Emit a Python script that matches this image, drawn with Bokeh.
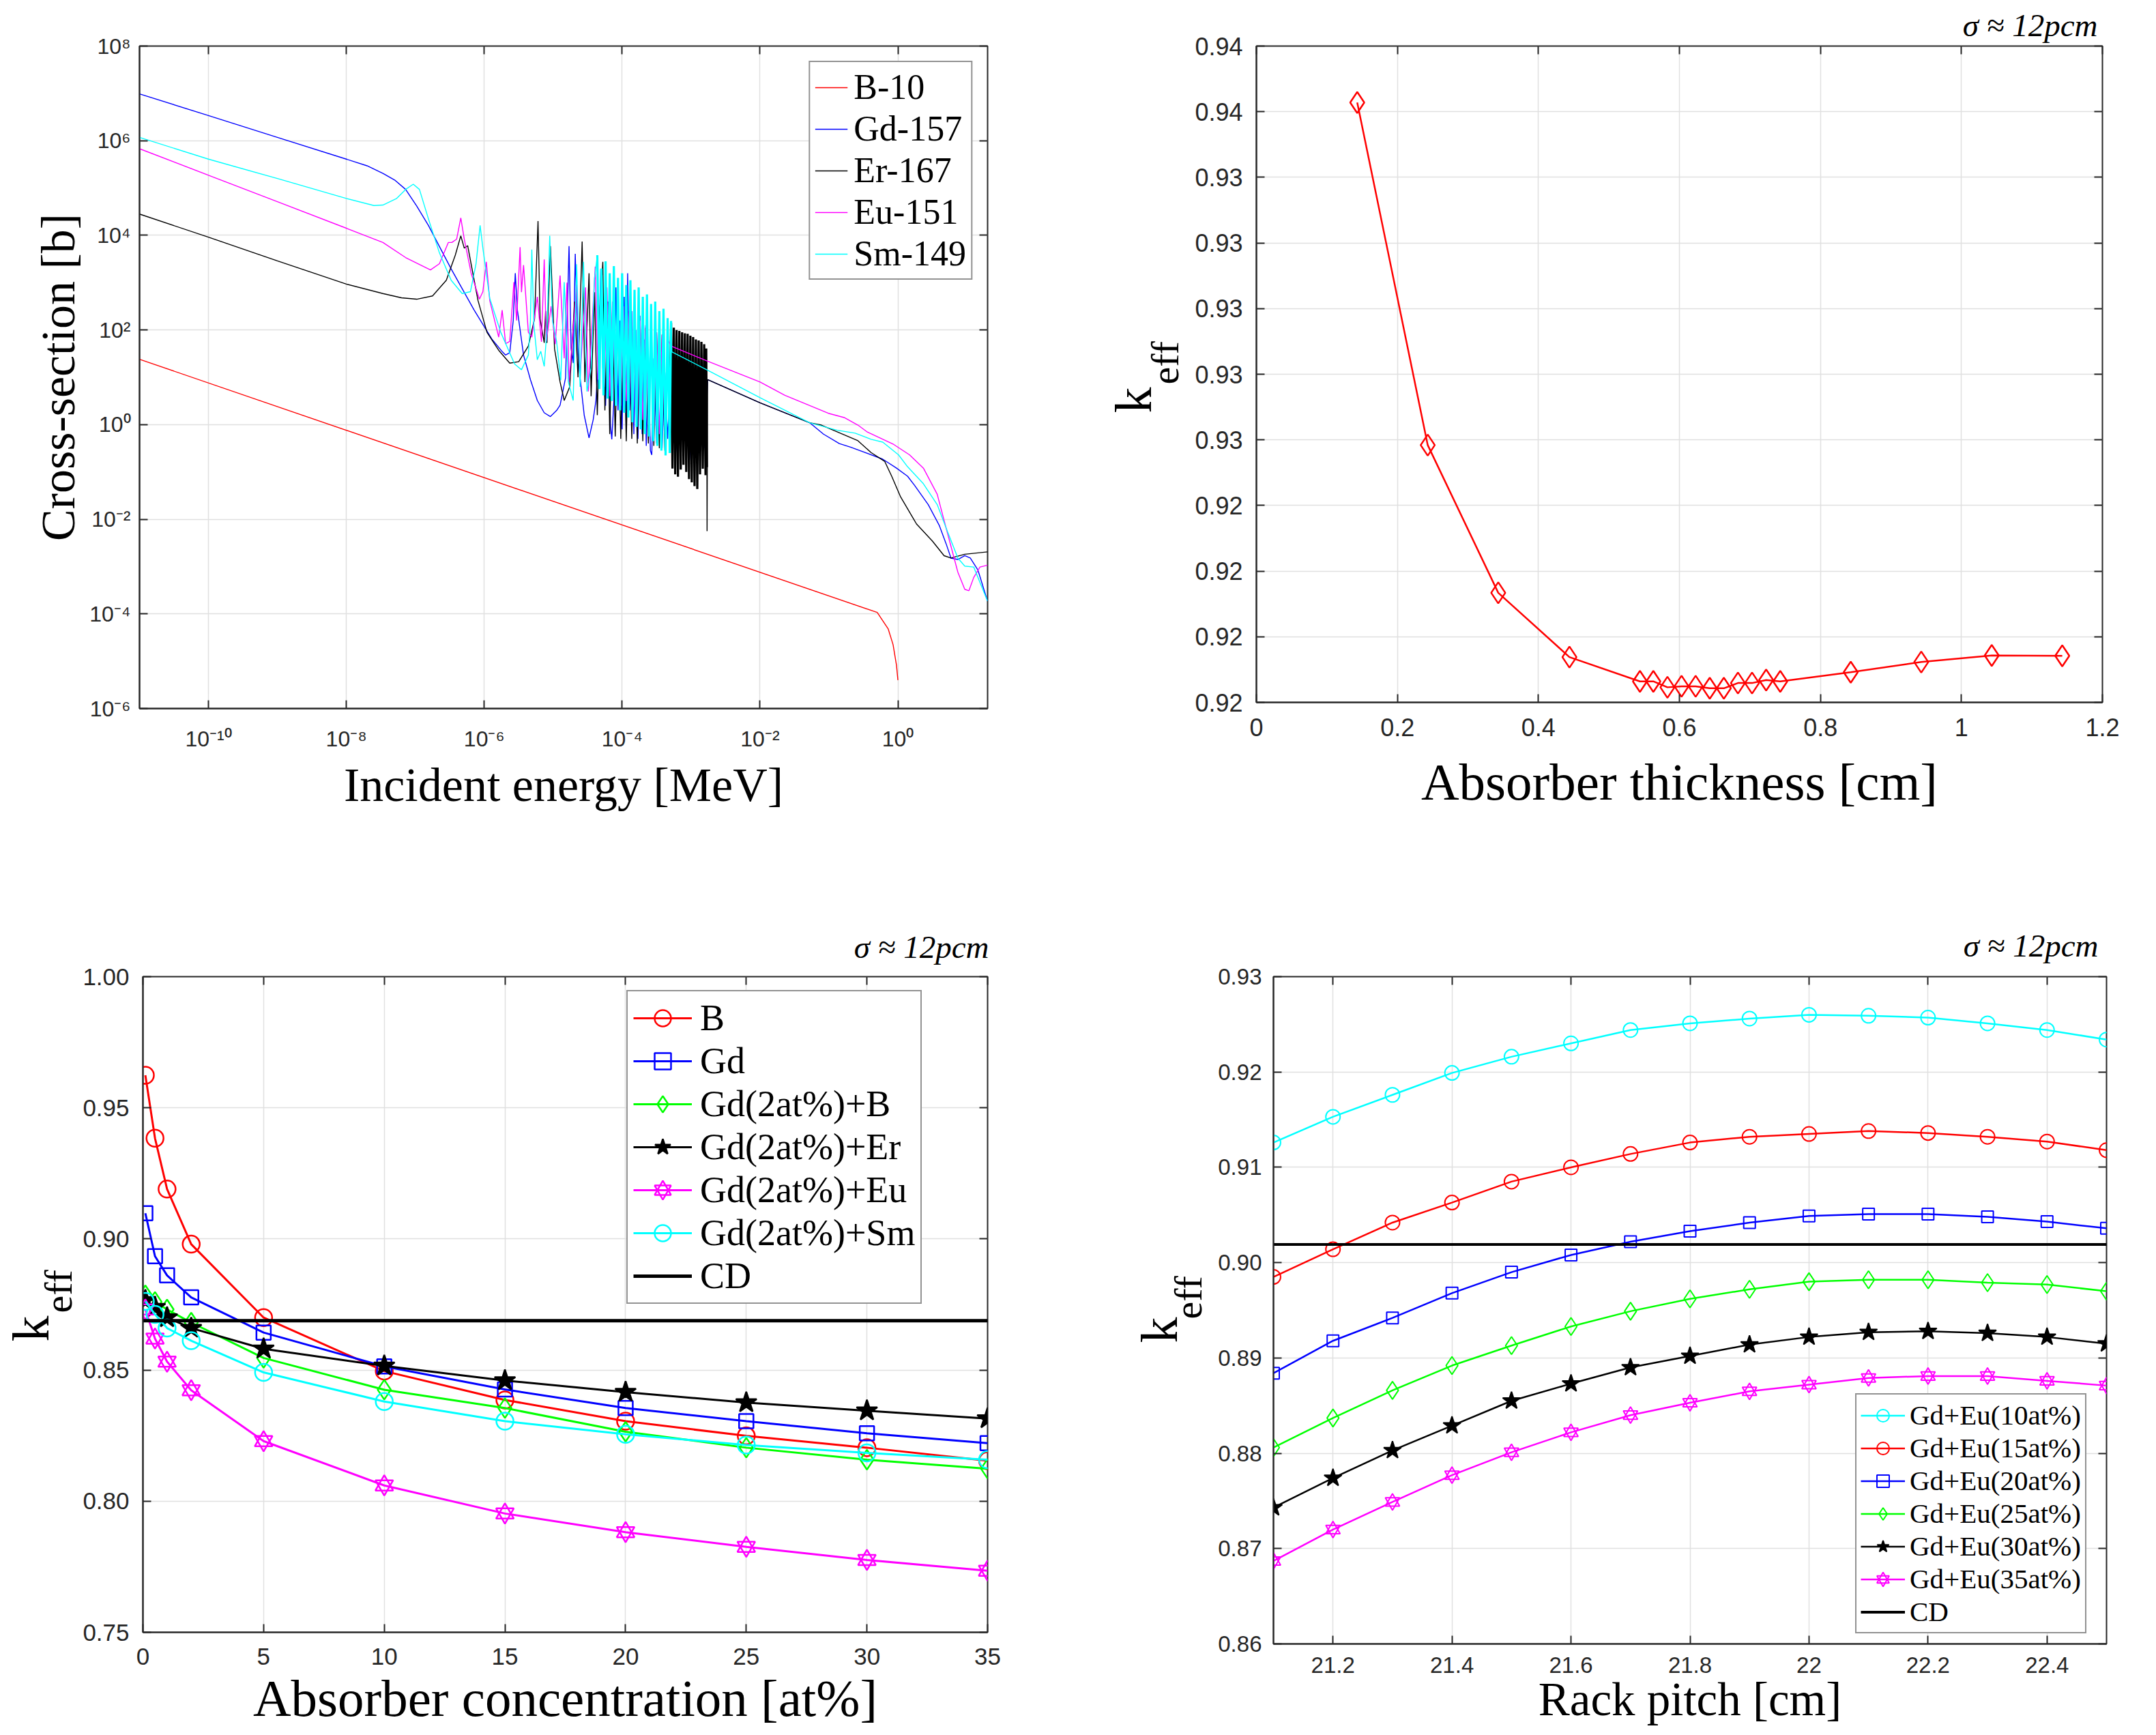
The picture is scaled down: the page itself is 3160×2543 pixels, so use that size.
import math
from bokeh.plotting import figure
from bokeh.layouts import column, row
from bokeh.models import (FixedTicker, PrintfTickFormatter, CustomJSTickFormatter,
                          Legend, LegendItem, Title, LinearAxis, LogAxis, Range1d)
from bokeh.embed import file_html
from bokeh.resources import INLINE

# ---------------- Panel (a): capture cross sections, (log10 E [MeV], log10 sigma [b]) ----------------
B10 = [(-11.0, 1.38), (-0.30, -3.97), (-0.14, -4.32), (-0.07, -4.65), (-0.02, -5.09), (0.0, -5.40)]

GD157 = [(-11.0, 6.99), (-10.0, 6.53), (-9.0, 6.07), (-8.0, 5.61), (-7.7, 5.47), (-7.47, 5.31), (-7.3, 5.17),
         (-7.14, 4.97), (-6.98, 4.62), (-6.81, 4.21), (-6.48, 3.29), (-6.15, 2.43), (-5.89, 1.81), (-5.75, 1.56),
         (-5.69, 1.47), (-5.63, 1.52), (-5.58, 2.19), (-5.55, 3.20), (-5.52, 2.43), (-5.43, 1.47), (-5.33, 0.95),
         (-5.23, 0.51), (-5.13, 0.25), (-5.04, 0.17), (-4.95, 0.30), (-4.90, 0.41), (-4.82, 0.99), (-4.77, 3.77),
         (-4.74, 1.60), (-4.71, 1.30), (-4.68, 3.61), (-4.64, 1.50), (-4.61, 0.99), (-4.55, 0.20), (-4.48, -0.28),
         (-4.42, 0.10), (-4.38, 0.51), (-4.34, 1.50), (-4.31, 3.29), (-4.28, 1.20), (-4.24, 0.40), (-4.20, 2.60),
         (-4.17, 0.00), (-4.15, -0.31), (-4.12, 0.50), (-4.09, 2.90), (-4.06, 0.30), (-4.03, 2.20), (-4.00, -0.10),
         (-3.97, 2.70), (-3.94, 0.10), (-3.92, 3.20), (-3.89, 0.30), (-3.86, 2.40), (-3.83, -0.20), (-3.80, 2.00),
         (-3.77, -0.30), (-3.74, 2.30), (-3.71, -0.20), (-3.68, 1.80), (-3.65, -0.45), (-3.62, 1.50), (-3.59, -0.55),
         (-3.57, -0.64), (-3.54, 1.40), (-3.50, -0.40), (-3.46, 1.30), (-3.42, -0.50), (-3.38, 1.10), (-3.34, -0.30),
         (-3.30, 1.00), (-3.20, -0.60), (-3.10, 1.20), (-3.00, -0.80), (-2.90, 1.00), (-2.80, -0.50), (-2.76, 0.95),
         (-2.00, 0.46), (-1.28, 0.04), (-1.08, -0.20), (-0.85, -0.40), (-0.68, -0.48), (-0.22, -0.73), (-0.02, -0.92),
         (0.14, -1.09), (0.24, -1.28), (0.44, -1.69), (0.60, -2.13), (0.70, -2.52), (0.77, -2.82), (0.87, -2.85),
         (0.97, -2.77), (1.05, -2.82), (1.16, -3.07), (1.30, -3.73)]

ER167 = [(-11.0, 4.45), (-10.0, 3.96), (-9.0, 3.46), (-8.0, 2.97), (-7.47, 2.77), (-7.2, 2.68), (-6.98, 2.65),
         (-6.75, 2.72), (-6.55, 3.05), (-6.42, 3.58), (-6.34, 3.99), (-6.29, 3.73), (-6.24, 3.78), (-6.19, 3.39),
         (-6.09, 2.62), (-5.96, 1.95), (-5.79, 1.57), (-5.63, 1.30), (-5.50, 1.33), (-5.36, 1.66), (-5.27, 2.24),
         (-5.22, 4.30), (-5.19, 2.24), (-5.13, 1.73), (-5.11, 2.40), (-5.09, 1.73), (-5.04, 3.77), (-4.98, 1.60),
         (-4.90, 0.90), (-4.84, 0.51), (-4.76, 0.80), (-4.69, 2.60), (-4.64, 1.00), (-4.58, 3.87), (-4.54, 0.90),
         (-4.48, 3.20), (-4.45, 0.60), (-4.40, 2.80), (-4.36, 0.20), (-4.32, 2.50), (-4.28, 3.44), (-4.25, 0.30),
         (-4.21, 2.60), (-4.18, -0.20), (-4.14, 2.40), (-4.10, -0.25), (-4.06, 2.30), (-4.02, -0.30), (-3.98, 2.20),
         (-3.94, -0.35), (-3.90, 2.30), (-3.86, -0.30), (-3.82, 2.10), (-3.78, -0.40), (-3.74, 2.15), (-3.70, -0.35),
         (-3.66, 2.05), (-3.62, -0.40), (-3.58, 2.00), (-3.54, -0.45), (-3.50, 1.95), (-3.46, -0.50), (-3.42, 1.90),
         (-3.38, -0.55), (-3.34, 1.85), (-3.31, -0.60)]
ER167_BAND = [(-3.31, -0.60), (-3.29, 2.15), (-3.27, -0.93), (-3.25, 2.05), (-3.23, -1.05),
              (-3.21, 2.00), (-3.19, -1.10), (-3.17, 1.98), (-3.15, -0.95), (-3.13, 1.95), (-3.11, -0.85), (-3.09, 1.93),
              (-3.07, -1.00), (-3.05, 1.92), (-3.03, -1.15), (-3.01, 1.88), (-2.99, -1.22), (-2.97, 1.85), (-2.95, -1.30),
              (-2.93, 1.80), (-2.91, -1.36), (-2.89, 1.78), (-2.87, -1.05), (-2.85, 1.75), (-2.83, -0.93), (-2.81, 1.70),
              (-2.79, -1.07), (-2.78, 1.61), (-2.77, -0.90)]
ER167_HIGH = [(-2.77, -0.90), (-2.768, -2.25), (-2.76, 0.95), (-2.00, 0.46), (-1.28, 0.04), (-1.11, -0.01),
              (-0.58, -0.34), (-0.39, -0.59), (-0.19, -0.78), (-0.09, -1.09), (0.04, -1.53), (0.27, -2.10), (0.50, -2.46),
              (0.67, -2.77), (0.77, -2.82), (0.97, -2.74), (1.30, -2.69)]

EU151 = [(-11.0, 5.83), (-10.0, 5.27), (-9.0, 4.71), (-8.0, 4.15), (-7.47, 3.85), (-7.14, 3.53), (-6.78, 3.27),
         (-6.65, 3.40), (-6.52, 3.85), (-6.47, 3.85), (-6.40, 3.92), (-6.34, 4.37), (-6.29, 3.92), (-6.19, 3.20),
         (-6.07, 2.65), (-6.02, 2.81), (-5.97, 3.44), (-5.92, 2.62), (-5.79, 1.85), (-5.74, 2.42), (-5.69, 1.71),
         (-5.63, 1.76), (-5.57, 3.01), (-5.53, 2.20), (-5.48, 3.75), (-5.46, 2.80), (-5.43, 3.37), (-5.36, 1.95),
         (-5.31, 1.85), (-5.23, 2.70), (-5.17, 1.75), (-5.13, 3.49), (-5.10, 1.75), (-5.03, 2.50), (-4.97, 1.70),
         (-4.90, 3.15), (-4.84, 1.40), (-4.80, 3.00), (-4.77, 0.90), (-4.66, 2.96), (-4.61, 1.00), (-4.53, 2.90),
         (-4.49, 0.70), (-4.39, 3.34), (-4.35, 0.95), (-4.30, 2.80), (-4.26, 0.80), (-4.22, 2.90), (-4.18, 0.60),
         (-4.14, 2.60), (-4.10, 0.70), (-4.06, 2.75), (-4.02, 0.40), (-3.98, 2.50), (-3.94, 0.50), (-3.90, 2.40),
         (-3.86, 0.30), (-3.82, 2.30), (-3.78, 0.20), (-3.74, 2.20), (-3.70, 0.10), (-3.66, 2.10), (-3.62, 0.00),
         (-3.58, 2.00), (-3.54, -0.10), (-3.50, 1.95), (-3.46, -0.20), (-3.42, 1.90), (-3.38, -0.20), (-3.34, 1.80),
         (-3.29, 1.66), (-2.76, 1.34), (-2.00, 0.90), (-1.64, 0.62), (-1.01, 0.24), (-0.78, 0.15), (-0.58, -0.01),
         (-0.45, -0.15), (-0.06, -0.42), (0.17, -0.64), (0.37, -0.92), (0.57, -1.47), (0.70, -2.19), (0.87, -3.12),
         (0.97, -3.48), (1.03, -3.51), (1.10, -3.23), (1.19, -3.01), (1.30, -2.97)]

SM149 = [(-11.0, 6.07), (-10.0, 5.61), (-9.0, 5.20), (-8.0, 4.78), (-7.6, 4.63), (-7.47, 4.64), (-7.27, 4.78),
         (-7.14, 4.97), (-7.03, 5.08), (-6.94, 4.97), (-6.81, 4.35), (-6.65, 3.63), (-6.48, 3.05), (-6.32, 2.77),
         (-6.20, 2.81), (-6.12, 3.39), (-6.06, 4.21), (-6.02, 3.73), (-5.92, 2.67), (-5.76, 1.95), (-5.56, 1.28),
         (-5.46, 1.16), (-5.36, 1.47), (-5.33, 2.20), (-5.31, 3.70), (-5.28, 2.10), (-5.23, 1.37), (-5.18, 1.55),
         (-5.13, 1.23), (-5.09, 2.00), (-5.05, 3.99), (-5.01, 2.20), (-4.95, 1.75), (-4.89, 0.94), (-4.84, 3.01),
         (-4.78, 0.90), (-4.71, 0.51), (-4.66, 3.39), (-4.61, 0.80), (-4.56, 3.44), (-4.51, 0.70), (-4.45, 1.20),
         (-4.40, 3.10), (-4.36, 3.58)]
SM149_BAND = [(-4.36, 3.58), (-4.33, 0.75), (-4.30, 3.30), (-4.27, 0.62), (-4.24, 3.45), (-4.21, 0.55),
              (-4.18, 3.20), (-4.15, 0.50), (-4.12, 3.35), (-4.09, 0.40), (-4.06, 3.10), (-4.03, 0.30), (-4.00, 3.20),
              (-3.97, 0.25), (-3.94, 2.95), (-3.91, 0.15), (-3.88, 3.05), (-3.85, 0.05), (-3.82, 2.85), (-3.79, -0.05),
              (-3.76, 2.90), (-3.73, -0.10), (-3.70, 2.70), (-3.67, -0.20), (-3.64, 2.75), (-3.61, -0.25), (-3.58, 2.55),
              (-3.55, -0.35), (-3.52, 2.60), (-3.49, -0.45), (-3.46, 2.40), (-3.43, -0.55), (-3.40, 2.45), (-3.37, -0.65),
              (-3.34, 2.25), (-3.31, -0.60), (-3.29, 2.19)]
SM149_HIGH = [(-3.29, 2.19), (-3.28, 1.54), (-2.76, 1.15), (-2.00, 0.57), (-1.28, 0.04),
              (-0.88, -0.12), (-0.62, -0.18), (-0.39, -0.31), (-0.22, -0.37), (0.01, -0.64), (0.14, -0.89), (0.37, -1.25),
              (0.57, -1.69), (0.73, -2.30), (0.87, -2.82), (0.97, -2.99), (1.10, -3.01), (1.30, -3.73)]

# ---------------- Panel (b): keff vs absorber thickness ----------------
THICK = [0.143, 0.243, 0.343, 0.444, 0.544, 0.563, 0.583, 0.603, 0.623, 0.643, 0.663, 0.683, 0.703,
         0.723, 0.743, 0.843, 0.943, 1.043, 1.143]
KEFF_THICK = [0.93628, 0.92584, 0.92134, 0.91938, 0.91864, 0.91864, 0.91846, 0.91849, 0.91849, 0.91843,
              0.91843, 0.91859, 0.91859, 0.91868, 0.91864, 0.91892, 0.91923, 0.91943, 0.91942]

# ---------------- Panel (c): keff vs absorber concentration ----------------
CONC = [0.1, 0.5, 1, 2, 5, 10, 15, 20, 25, 30, 35]
K_B = [0.9624, 0.9384, 0.9190, 0.8980, 0.8700, 0.8496, 0.8386, 0.8305, 0.8249, 0.8204, 0.8154]
K_GD = [0.9098, 0.8934, 0.8861, 0.8777, 0.8643, 0.8514, 0.8426, 0.8355, 0.8305, 0.8259, 0.8221]
K_GDB = [0.8785, 0.8760, 0.8731, 0.8681, 0.8546, 0.8425, 0.8355, 0.8265, 0.8204, 0.8158, 0.8124]
K_GDER = [0.8766, 0.8740, 0.8700, 0.8660, 0.8581, 0.8516, 0.8460, 0.8416, 0.8376, 0.8345, 0.8315]
K_GDEU = [0.8731, 0.8620, 0.8532, 0.8423, 0.8229, 0.8060, 0.7953, 0.7882, 0.7826, 0.7776, 0.7735]
K_GDSM = [0.8762, 0.8712, 0.8660, 0.8612, 0.8491, 0.8380, 0.8305, 0.8255, 0.8214, 0.8184, 0.8158]
K_CD_C = 0.8688

# ---------------- Panel (d): keff vs rack pitch ----------------
PITCH = [21.1, 21.2, 21.3, 21.4, 21.5, 21.6, 21.7, 21.8, 21.9, 22.0, 22.1, 22.2, 22.3, 22.4, 22.5]
EU10 = [0.9126, 0.9153, 0.9176, 0.9199, 0.9216, 0.9230, 0.9244, 0.9251, 0.9256, 0.9260, 0.9259, 0.9257, 0.9251, 0.9244, 0.9234]
EU15 = [0.8985, 0.9014, 0.9042, 0.9063, 0.9085, 0.9100, 0.9114, 0.9126, 0.9132, 0.9135, 0.9138, 0.9136, 0.9132, 0.9127, 0.9118]
EU20 = [0.8884, 0.8918, 0.8942, 0.8968, 0.8990, 0.9008, 0.9022, 0.9033, 0.9042, 0.9049, 0.9051, 0.9051, 0.9048, 0.9043, 0.9036]
EU25 = [0.8806, 0.8837, 0.8866, 0.8892, 0.8913, 0.8933, 0.8949, 0.8962, 0.8972, 0.8980, 0.8982, 0.8982, 0.8979, 0.8977, 0.8970]
EU30 = [0.8743, 0.8774, 0.8803, 0.8829, 0.8855, 0.8873, 0.8890, 0.8902, 0.8914, 0.8922, 0.8927, 0.8928, 0.8926, 0.8922, 0.8915]
EU35 = [0.8687, 0.8720, 0.8749, 0.8777, 0.8801, 0.8822, 0.8840, 0.8853, 0.8865, 0.8872, 0.8879, 0.8881, 0.8881, 0.8876, 0.8871]
K_CD_D = 0.9019

# ---------------- ticks ----------------
A_XT = [1e-10, 1e-8, 1e-6, 1e-4, 1e-2, 1.0]
A_YT = [1e-6, 1e-4, 1e-2, 1.0, 1e2, 1e4, 1e6, 1e8]
B_XT = [0, 0.2, 0.4, 0.6, 0.8, 1.0, 1.2]
B_YT = [0.918, 0.920, 0.922, 0.924, 0.926, 0.928, 0.930, 0.932, 0.934, 0.936, 0.938]
C_XT = [0, 5, 10, 15, 20, 25, 30, 35]
C_YT = [0.75, 0.80, 0.85, 0.90, 0.95, 1.00]
D_XT = [21.2, 21.4, 21.6, 21.8, 22.0, 22.2, 22.4]
D_YT = [0.86, 0.87, 0.88, 0.89, 0.90, 0.91, 0.92, 0.93]

SERIF = "Liberation Serif"
SANS = "Liberation Sans"
AX = "#262626"
GRID = "#e0e0e0"

SUP_FMT = """
const sup = {'-':'\u207b','0':'\u2070','1':'\u00b9','2':'\u00b2','3':'\u00b3','4':'\u2074',
             '5':'\u2075','6':'\u2076','7':'\u2077','8':'\u2078','9':'\u2079'};
const e = Math.round(Math.log10(tick));
return '10' + String(e).split('').map(c => sup[c]).join('');
"""


def unlog(pairs):
    return [10 ** a for a, b in pairs], [10 ** b for a, b in pairs]


def make_fig(fw, fh, l, r, t, b, **kw):
    p = figure(frame_width=fw, frame_height=fh, min_border_left=l, min_border_right=r,
               min_border_top=t, min_border_bottom=b, output_backend="svg",
               toolbar_location=None, **kw)
    p.outline_line_color = AX
    p.outline_line_width = 2
    p.background_fill_color = "white"
    p.border_fill_color = "white"
    p.grid.grid_line_color = GRID
    p.grid.grid_line_width = 1.5
    return p


def style_axes(p, xt, yt, xf, yf, fs, xstand, ystand, log=False):
    xa = p.below[0]
    ya = p.left[0]
    xa.ticker = FixedTicker(ticks=xt)
    ya.ticker = FixedTicker(ticks=yt)
    xa.formatter = xf
    ya.formatter = yf
    for ax in (xa, ya):
        ax.major_tick_in = 12
        ax.major_tick_out = 0
        ax.minor_tick_line_color = None
        ax.major_tick_line_color = AX
        ax.major_tick_line_width = 2
        ax.axis_line_color = AX
        ax.axis_line_width = 2
        ax.major_label_text_font = SANS
        ax.major_label_text_font_size = fs
        ax.major_label_text_color = AX
        ax.axis_label_text_font = SERIF
        ax.axis_label_text_font_style = "normal"
        ax.axis_label_text_color = "black"
    xa.major_label_standoff = xstand
    ya.major_label_standoff = ystand
    Ax = LogAxis if log else LinearAxis
    for side, ticks in (("above", xt), ("right", yt)):
        a = Ax(ticker=FixedTicker(ticks=ticks), formatter=CustomJSTickFormatter(code="return '';"),
               major_tick_in=12, major_tick_out=0, minor_tick_line_color=None,
               major_tick_line_color=AX, major_tick_line_width=2, axis_line_color=None,
               major_label_standoff=0, major_label_text_font_size="1px")
        p.add_layout(a, side)


def sigma_title(p, offset, standoff):
    p.add_layout(Title(text="\u03c3 \u2248 12pcm", align="right", vertical_align="bottom",
                       offset=offset, standoff=standoff, text_font=SERIF, text_font_style="italic",
                       text_font_size="47px", text_color="black"), "above")


def keff_titles(p, off_k, off_e, s_k, s_e):
    p.add_layout(Title(text="eff", align="left", vertical_align="bottom", offset=off_e, standoff=s_e,
                       text_font=SERIF, text_font_style="normal", text_font_size="58px",
                       text_color="black"), "left")
    p.add_layout(Title(text="k", align="left", vertical_align="bottom", offset=off_k, standoff=s_k,
                       text_font=SERIF, text_font_style="normal", text_font_size="76px",
                       text_color="black"), "left")


def legend_style(lg, fs, gw, gh, standoff, spacing, padding):
    lg.label_text_font = SERIF
    lg.label_text_font_size = fs
    lg.label_text_color = "black"
    lg.glyph_width = gw
    lg.glyph_height = gh
    lg.label_height = gh
    lg.label_standoff = standoff
    lg.spacing = spacing
    lg.padding = padding
    lg.border_line_color = AX
    lg.border_line_width = 2
    lg.background_fill_color = "white"
    lg.background_fill_alpha = 1.0


# ======================= Panel (a) =======================
p1 = make_fig(1243, 971, 204, 40, 64, 190, x_axis_type="log", y_axis_type="log",
              x_range=Range1d(1e-11, 20), y_range=Range1d(1e-6, 1e8))
style_axes(p1, A_XT, A_YT, CustomJSTickFormatter(code=SUP_FMT), CustomJSTickFormatter(code=SUP_FMT),
           "32px", 26, 13, log=True)
p1.below[0].axis_label = "Incident energy [MeV]"
p1.below[0].axis_label_text_font_size = "70px"
p1.below[0].axis_label_standoff = 8
p1.left[0].axis_label = "Cross-section [b]"
p1.left[0].axis_label_text_font_size = "70px"
p1.left[0].axis_label_standoff = 4

items_a = []
for name, parts, col in (("B-10", [(B10, 1.4)], "#ff0000"),
                         ("Gd-157", [(GD157, 1.4)], "#0000ff"),
                         ("Er-167", [(ER167, 1.4), (ER167_BAND, 3.2), (ER167_HIGH, 1.4)], "#000000"),
                         ("Eu-151", [(EU151, 1.4)], "#ff00ff"),
                         ("Sm-149", [(SM149, 1.4), (SM149_BAND, 3.2), (SM149_HIGH, 1.4)], "#00ffff")):
    rends = []
    for data, lw in parts:
        xs, ys = unlog(data)
        rends.append(p1.line(xs, ys, line_color=col, line_width=lw))
    items_a.append(LegendItem(label=name, renderers=[rends[0]]))
lg1 = Legend(items=items_a, location="top_right", margin=22)
legend_style(lg1, "52px", 48, 58, 9, 2, 7)
p1.add_layout(lg1)

# ======================= Panel (b) =======================
p2 = make_fig(1240, 962, 354, 50, 67, 196, x_range=Range1d(0, 1.2), y_range=Range1d(0.918, 0.938))
style_axes(p2, B_XT, B_YT, CustomJSTickFormatter(code="return String(tick);"),
           PrintfTickFormatter(format="%.2f"), "36px", 23, 20)
p2.below[0].axis_label = "Absorber thickness [cm]"
p2.below[0].axis_label_text_font_size = "77px"
p2.below[0].axis_label_standoff = 21
p2.line(THICK, KEFF_THICK, line_color="#ff0000", line_width=2.5)
p2.scatter(THICK, KEFF_THICK, marker="diamond", size=31, line_color="#ff0000", fill_color=None, line_width=2.5)
keff_titles(p2, 424, 466, -77, 17)
sigma_title(p2, 7, 9)

# ======================= Panel (c) =======================
p3 = make_fig(1238, 961, 209, 40, 204, 152, x_range=Range1d(0, 35), y_range=Range1d(0.75, 1.0))
style_axes(p3, C_XT, C_YT, CustomJSTickFormatter(code="return String(tick);"),
           PrintfTickFormatter(format="%.2f"), "35px", 23, 20)
p3.below[0].axis_label = "Absorber concentration [at%]"
p3.below[0].axis_label_text_font_size = "77px"
p3.below[0].axis_label_standoff = 3
items_c = []
for name, vals, col, mk, sz, fill in (("B", K_B, "#ff0000", "circle", 25, None),
                                      ("Gd", K_GD, "#0000ff", "square", 21, None),
                                      ("Gd(2at%)+B", K_GDB, "#00ff00", "diamond", 29, None),
                                      ("Gd(2at%)+Er", K_GDER, "#000000", "star", 32, "#000000"),
                                      ("Gd(2at%)+Eu", K_GDEU, "#ff00ff", "hexagram", 26, None),
                                      ("Gd(2at%)+Sm", K_GDSM, "#00ffff", "circle", 25, None)):
    rl = p3.line(CONC, vals, line_color=col, line_width=3)
    rs = [rl]
    if mk == "hexagram":
        for m in ("triangle", "inverted_triangle"):
            rs.append(p3.scatter(CONC, vals, marker=m, size=sz, line_color=col, fill_color=None, line_width=2.5))
    else:
        rs.append(p3.scatter(CONC, vals, marker=mk, size=sz, line_color=col, fill_color=fill, line_width=2.5))
    items_c.append(LegendItem(label=name, renderers=rs))
rcd = p3.line([C_XT[0], C_XT[-1]], [K_CD_C, K_CD_C], line_color="#000000", line_width=5)
items_c.append(LegendItem(label="CD", renderers=[rcd]))
lg3 = Legend(items=items_c, location=(709, 481), margin=0)
legend_style(lg3, "54px", 86, 60, 12, 1, 8)
p3.add_layout(lg3)
keff_titles(p3, 426, 468, -74, 2)
sigma_title(p3, -2, 36)

# ======================= Panel (d) =======================
p4 = make_fig(1221, 978, 379, 50, 206, 133, x_range=Range1d(21.1, 22.5), y_range=Range1d(0.86, 0.93))
style_axes(p4, D_XT, D_YT, CustomJSTickFormatter(code="return String(tick);"),
           PrintfTickFormatter(format="%.2f"), "33px", 19, 17)
p4.below[0].axis_label = "Rack pitch [cm]"
p4.below[0].axis_label_text_font_size = "69px"
p4.below[0].axis_label_standoff = -2
items_d = []
for name, vals, col, mk, sz, fill in (("Gd+Eu(10at%)", EU10, "#00ffff", "circle", 21, None),
                                      ("Gd+Eu(15at%)", EU15, "#ff0000", "circle", 21, None),
                                      ("Gd+Eu(20at%)", EU20, "#0000ff", "square", 17, None),
                                      ("Gd+Eu(25at%)", EU25, "#00ff00", "diamond", 26, None),
                                      ("Gd+Eu(30at%)", EU30, "#000000", "star", 27, "#000000"),
                                      ("Gd+Eu(35at%)", EU35, "#ff00ff", "hexagram", 21, None)):
    rl = p4.line(PITCH, vals, line_color=col, line_width=2.5)
    rs = [rl]
    if mk == "hexagram":
        for m in ("triangle", "inverted_triangle"):
            rs.append(p4.scatter(PITCH, vals, marker=m, size=sz, line_color=col, fill_color=None, line_width=2))
    else:
        rs.append(p4.scatter(PITCH, vals, marker=mk, size=sz, line_color=col, fill_color=fill, line_width=2))
    items_d.append(LegendItem(label=name, renderers=rs))
rcd4 = p4.line([PITCH[0], PITCH[-1]], [K_CD_D, K_CD_D], line_color="#000000", line_width=4)
items_d.append(LegendItem(label="CD", renderers=[rcd4]))
lg4 = Legend(items=items_d, location=(853, 15), margin=0)
legend_style(lg4, "41px", 65, 45, 7, 0, 6)
p4.add_layout(lg4)
keff_titles(p4, 441, 476, -85, 17)
sigma_title(p4, 12, 40)

layout = column(row(p1, p2), row(p3, p4))
with open("out.html", "w", encoding="utf-8") as f:
    f.write(file_html(layout, INLINE))
